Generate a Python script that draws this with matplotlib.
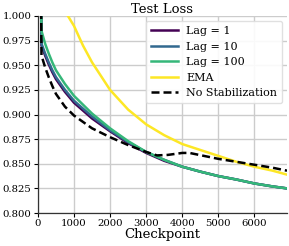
import matplotlib
matplotlib.use("Agg")
import matplotlib.pyplot as plt

# checkpoints and test loss
ckpt_lag = [80, 100, 200, 300, 400, 500, 750, 1000, 1500, 2000, 2500, 3000,
            3500, 4000, 4500, 5000, 5500, 6000, 6500, 6900]
lag1 = [1.06, 0.970, 0.960, 0.951, 0.943, 0.936, 0.923, 0.912, 0.896, 0.883,
        0.871, 0.861, 0.853, 0.847, 0.842, 0.8375, 0.834, 0.830, 0.827, 0.825]
lag10 = [1.06, 0.972, 0.962, 0.953, 0.945, 0.938, 0.925, 0.914, 0.898, 0.884,
         0.872, 0.862, 0.854, 0.847, 0.842, 0.8375, 0.834, 0.830, 0.827, 0.825]
lag100 = [1.06, 0.985, 0.972, 0.962, 0.953, 0.945, 0.931, 0.919, 0.901, 0.886,
          0.873, 0.862, 0.854, 0.847, 0.842, 0.8375, 0.834, 0.830, 0.827, 0.825]

ckpt_ema = [700, 1000, 1250, 1500, 2000, 2500, 3000, 3500, 4000, 4500, 5000,
            5500, 6000, 6500, 6900]
ema = [1.008, 0.990, 0.970, 0.953, 0.925, 0.905, 0.890, 0.879, 0.870, 0.864,
       0.858, 0.852, 0.847, 0.843, 0.839]

ckpt_nostab = [80, 100, 200, 300, 400, 500, 750, 1000, 1500, 2000, 2500, 3000,
               3300, 3600, 4000, 4200, 4600, 5000, 5500, 6000, 6500, 6900]
nostab = [1.06, 0.960, 0.948, 0.938, 0.929, 0.921, 0.908, 0.899, 0.886, 0.877,
          0.869, 0.862, 0.8585, 0.859, 0.861, 0.861, 0.858, 0.855, 0.852, 0.849,
          0.846, 0.843]

plt.rcParams["font.family"] = "DejaVu Serif"

fig = plt.figure(figsize=(2.89, 2.46), dpi=100)
ax = fig.add_axes([0.131, 0.134, 0.862, 0.801])

ax.plot(ckpt_lag, lag1, color="#440154", lw=1.8, label="Lag = 1")
ax.plot(ckpt_lag, lag10, color="#31688e", lw=1.8, label="Lag = 10")
ax.plot(ckpt_lag, lag100, color="#35b779", lw=1.8, label="Lag = 100")
ax.plot(ckpt_ema, ema, color="#fde725", lw=1.8, label="EMA")
ax.plot(ckpt_nostab, nostab, color="black", lw=1.8, ls=(0, (3.2, 1.6)),
        label="No Stabilization")

ax.set_xlim(0, 6900)
ax.set_ylim(0.8, 1.0)
ax.set_xticks([0, 1000, 2000, 3000, 4000, 5000, 6000])
ax.set_yticks([0.8, 0.825, 0.85, 0.875, 0.9, 0.925, 0.95, 0.975, 1.0])
ax.yaxis.set_major_formatter(matplotlib.ticker.FormatStrFormatter("%.3f"))
ax.tick_params(labelsize=7.3, length=3, width=0.8, pad=1.5)
ax.grid(True, color="#cccccc", lw=1.0)
ax.set_axisbelow(True)
for s in ["top", "right"]:
    ax.spines[s].set_visible(False)
for s in ["left", "bottom"]:
    ax.spines[s].set_color("#333333")
    ax.spines[s].set_linewidth(0.9)

ax.set_title("Test Loss", fontsize=9.5, pad=1)
ax.set_xlabel("Checkpoint", fontsize=9.5, labelpad=0)
ax.legend(loc="upper right", fontsize=8, frameon=True, framealpha=0.9,
          edgecolor="#dddddd", handlelength=2.4, borderpad=0.45, labelspacing=0.5,
          borderaxespad=0.45, handletextpad=0.75)

fig.savefig("out.png", dpi=100)
